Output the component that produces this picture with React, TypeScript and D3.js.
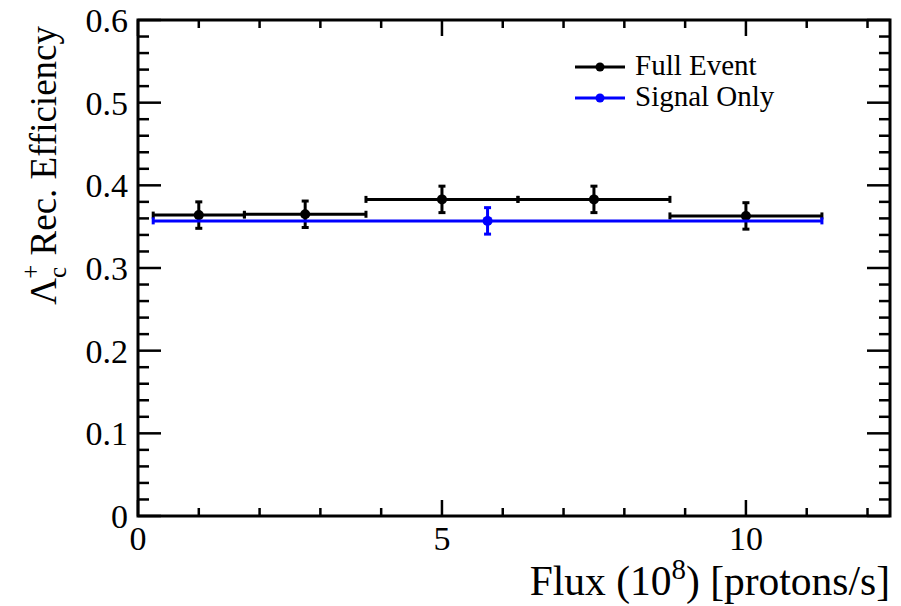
import * as d3 from "d3";

// bin edges and values
const fullEdges = [0.25, 1.75, 3.75, 6.25, 8.75, 11.25];
const fullX = [1.0, 2.75, 5.0, 7.5, 10.0];
const fullY = [0.364, 0.365, 0.383, 0.383, 0.363];
const fullErr = [0.016, 0.016, 0.016, 0.016, 0.016];

const sigLo = [0.25];
const sigHi = [11.25];
const sigX = [5.75];
const sigY = [0.357];
const sigErr = [0.016];

const xMajor = [0, 5, 10];
const yMajor = [0, 0.1, 0.2, 0.3, 0.4, 0.5, 0.6];
const yLabels = ["0", "0.1", "0.2", "0.3", "0.4", "0.5", "0.6"];

const legendNames = ["Full Event", "Signal Only"];
const legendColors = ["#000000", "#0000ff"];

const W = 901;
const H = 606;

export default function App() {
  const frame = { left: 138, right: 890, top: 20, bottom: 516 };
  const x = d3.scaleLinear().domain([0, 12.37]).range([frame.left, frame.right]);
  const y = d3.scaleLinear().domain([0, 0.6]).range([frame.bottom, frame.top]);

  const xMinor = d3.range(0, 12.5, 1);
  const yMinor = d3.range(0, 0.601, 0.02);

  const cap = 3.5;
  const sw = 3;

  // full-event bins: one per point, edges shared
  const full = fullX.map((v, i) => ({
    x: v,
    lo: fullEdges[i],
    hi: fullEdges[i + 1],
    y: fullY[i],
    e: fullErr[i],
  }));
  const sig = sigX.map((v, i) => ({ x: v, lo: sigLo[i], hi: sigHi[i], y: sigY[i], e: sigErr[i] }));

  const drawPoint = (d, color, key) => (
    <g key={key} stroke={color} strokeWidth={sw}>
      <line x1={x(d.lo)} x2={x(d.hi)} y1={y(d.y)} y2={y(d.y)} />
      <line x1={x(d.lo)} x2={x(d.lo)} y1={y(d.y) - cap} y2={y(d.y) + cap} />
      <line x1={x(d.hi)} x2={x(d.hi)} y1={y(d.y) - cap} y2={y(d.y) + cap} />
      <line x1={x(d.x)} x2={x(d.x)} y1={y(d.y - d.e)} y2={y(d.y + d.e)} />
      <line x1={x(d.x) - cap} x2={x(d.x) + cap} y1={y(d.y + d.e)} y2={y(d.y + d.e)} />
      <line x1={x(d.x) - cap} x2={x(d.x) + cap} y1={y(d.y - d.e)} y2={y(d.y - d.e)} />
      <circle cx={x(d.x)} cy={y(d.y)} r={5} fill={color} stroke="none" />
    </g>
  );

  return (
    <svg width={W} height={H} style={{ position: "absolute", left: 0, top: 0, background: "#fff" }}>
      <style>{`text { font-family: "Liberation Serif", "Times New Roman", Tinos, serif; }`}</style>
      {/* ticks */}
      <g stroke="#000" strokeWidth={2.5}>
        {xMinor.map((t) => {
          const len = xMajor.includes(t) ? 16 : 8;
          return (
            <g key={"xt" + t}>
              <line x1={x(t)} x2={x(t)} y1={frame.bottom} y2={frame.bottom - len} />
              <line x1={x(t)} x2={x(t)} y1={frame.top} y2={frame.top + len} />
            </g>
          );
        })}
        {yMinor.map((t, i) => {
          const len = i % 5 === 0 ? 23 : 11;
          return (
            <g key={"yt" + i}>
              <line x1={frame.left} x2={frame.left + len} y1={y(t)} y2={y(t)} />
              <line x1={frame.right} x2={frame.right - len} y1={y(t)} y2={y(t)} />
            </g>
          );
        })}
      </g>

      {/* data */}
      {full.map((d, i) => drawPoint(d, legendColors[0], "f" + i))}
      {sig.map((d, i) => drawPoint(d, legendColors[1], "s" + i))}

      {/* frame */}
      <rect
        x={frame.left}
        y={frame.top}
        width={frame.right - frame.left}
        height={frame.bottom - frame.top}
        fill="none"
        stroke="#000"
        strokeWidth={3}
      />

      {/* tick labels */}
      {yMajor.map((t, i) => (
        <text key={"yl" + i} x={128} y={y(t) + 12} textAnchor="end" fontSize={34} fill="#000">
          {yLabels[i]}
        </text>
      ))}
      {xMajor.map((t) => (
        <text key={"xl" + t} x={x(t)} y={550} textAnchor="middle" fontSize={34} fill="#000">
          {t}
        </text>
      ))}

      {/* axis titles */}
      <text x={890} y={595} textAnchor="end" fontSize={41.5} fill="#000">
        Flux (10<tspan dy={-16} fontSize={29}>8</tspan>
        <tspan dy={16}>) [protons/s]</tspan>
      </text>
      <text transform="translate(56,26) rotate(-90)" textAnchor="end" fontSize={37} fill="#000">
        Λ<tspan dy={10} fontSize={25}>c</tspan>
        <tspan dy={-27} dx={-12} fontSize={25}>+</tspan>
        <tspan dy={17}> Rec. Efficiency</tspan>
      </text>

      {/* legend */}
      {legendNames.map((n, i) => {
        const ly = 67 + i * 31;
        return (
          <g key={n}>
            <line x1={575} x2={625} y1={ly} y2={ly} stroke={legendColors[i]} strokeWidth={3} />
            <circle cx={600} cy={ly} r={4.5} fill={legendColors[i]} />
            <text x={635} y={ly + 8} fontSize={29} fill="#000">
              {n}
            </text>
          </g>
        );
      })}
    </svg>
  );
}
